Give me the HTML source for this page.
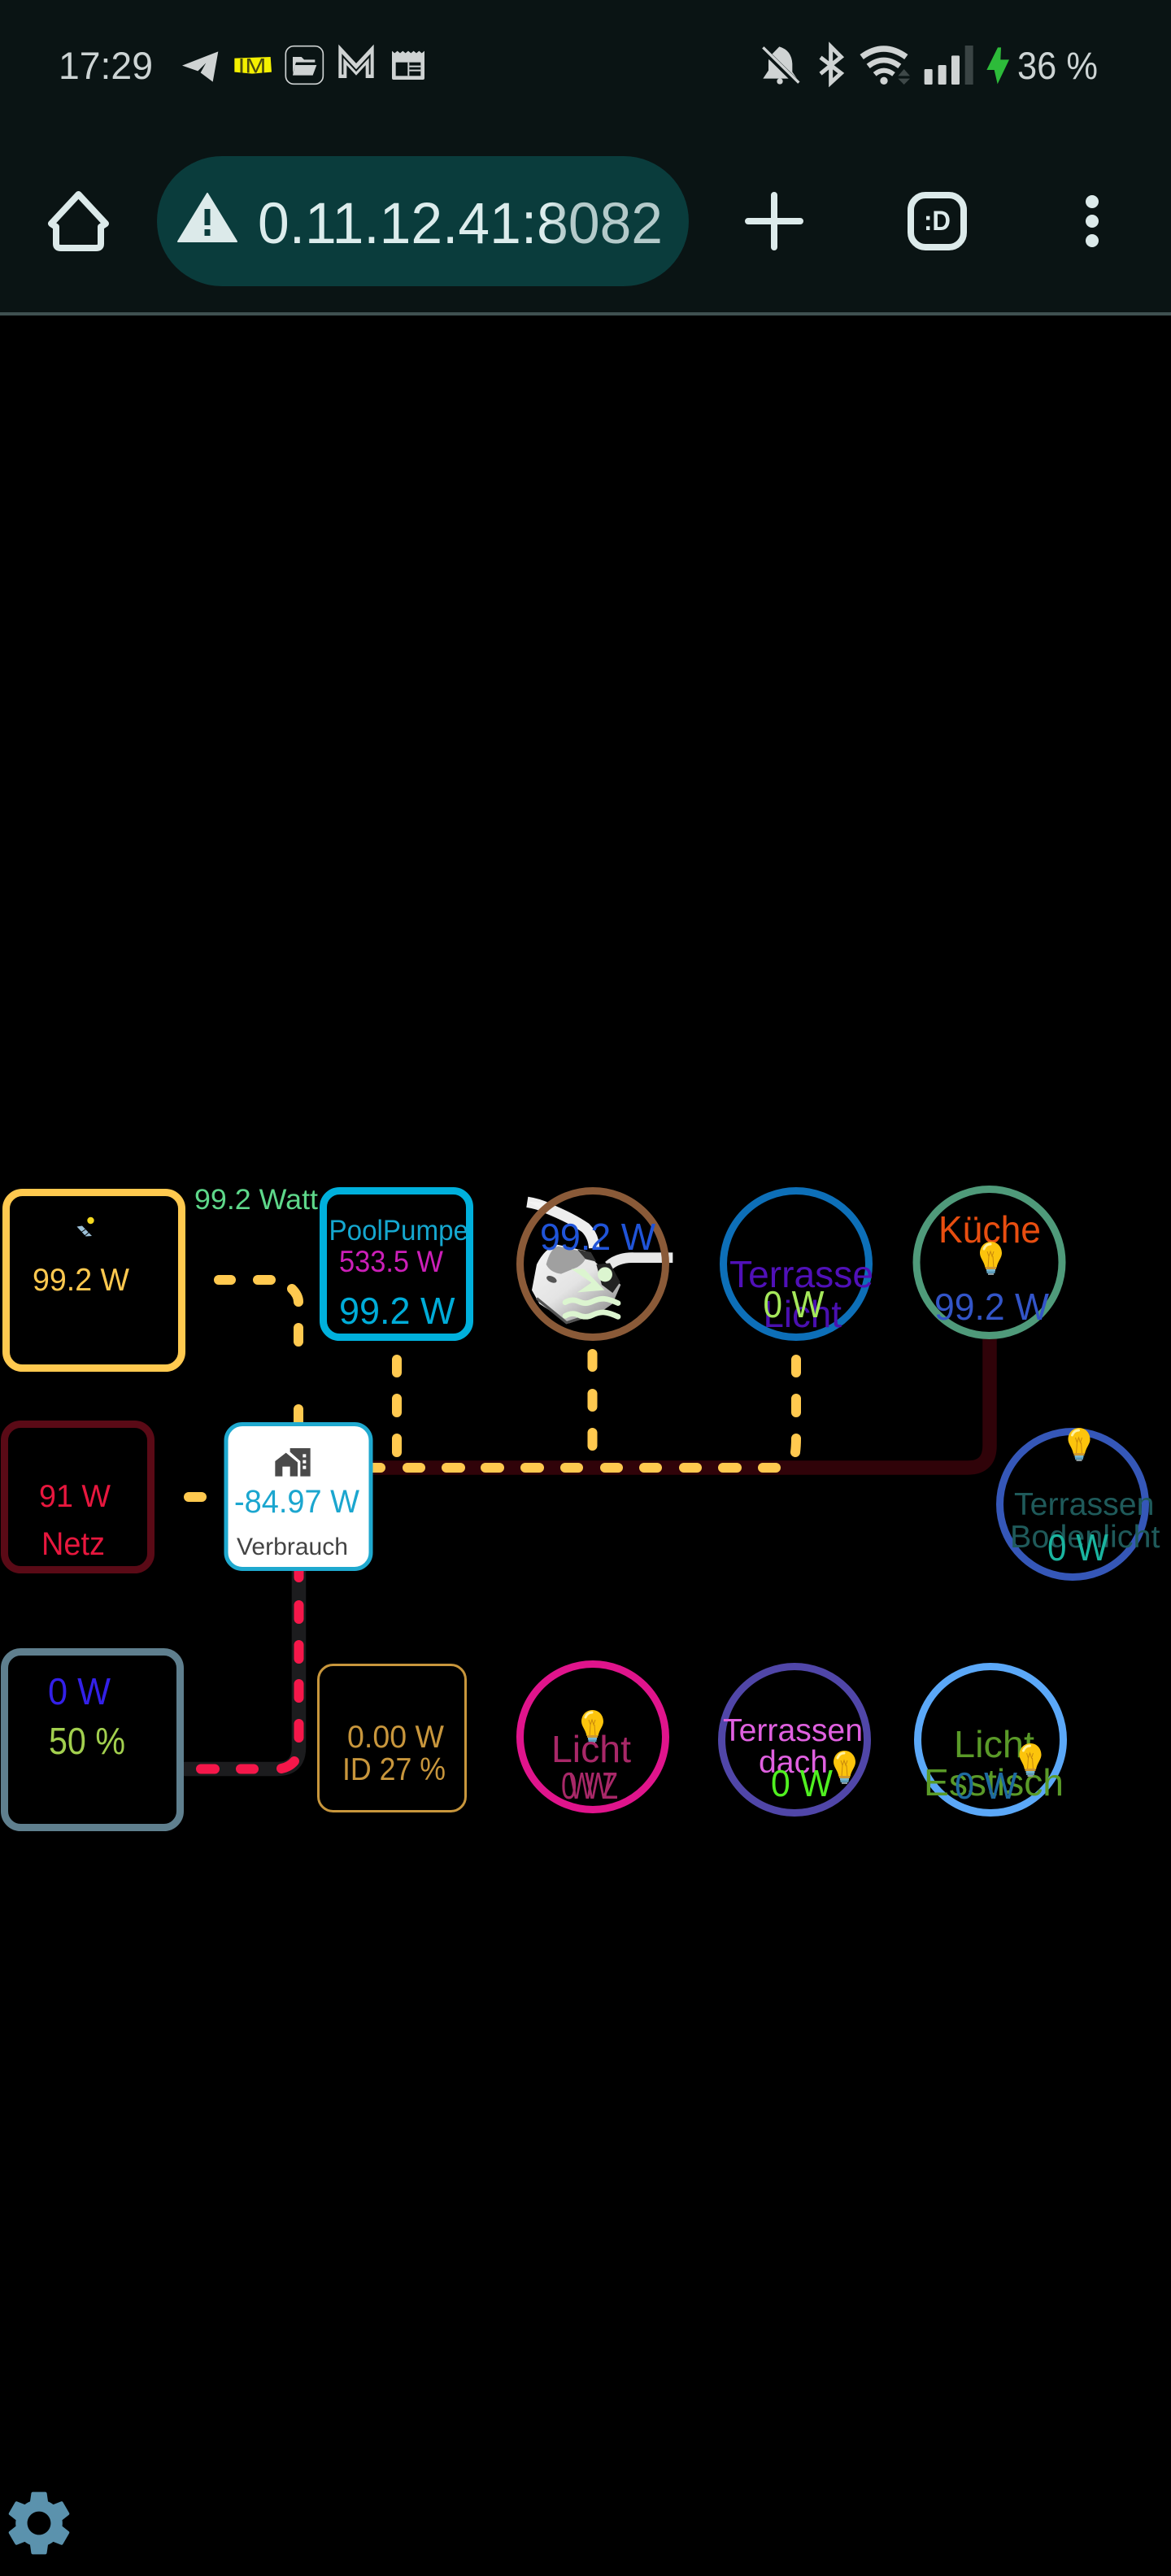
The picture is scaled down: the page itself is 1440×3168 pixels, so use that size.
<!DOCTYPE html>
<html lang="de">
<head>
<meta charset="utf-8">
<title>Energy flow</title>
<style>
html,body{margin:0;padding:0;background:#000}
svg{display:block}
text{font-family:"Liberation Sans",sans-serif}
</style>
</head>
<body>
<svg xmlns="http://www.w3.org/2000/svg" width="1440" height="3168" viewBox="0 0 1440 3168">
<defs>
<linearGradient id="urlg" x1="317" x2="815" y1="0" y2="0" gradientUnits="userSpaceOnUse">
<stop offset="0" stop-color="#dcecec"/><stop offset=".72" stop-color="#dcecec"/><stop offset=".76" stop-color="#b4caca"/><stop offset="1" stop-color="#b4caca"/>
</linearGradient>
<linearGradient id="bodyg" x1="120" x2="330" y1="280" y2="560" gradientUnits="userSpaceOnUse">
<stop offset="0" stop-color="#f4f4f4"/><stop offset=".55" stop-color="#e4e4e4"/><stop offset="1" stop-color="#9a9a9a"/>
</linearGradient>
<g id="bulb">
<path d="M13.5 0C5 0 0 7 0 14c0 6 5 10 6.500 18h14C22 24 27 20 27 14 27 7 22 0 13.500 0z" fill="#fcc40c"/>
<path d="M5 9C7 4 10 3 13 3" stroke="#fff2a0" stroke-width="3" fill="none" stroke-linecap="round"/>
<path d="M9 12l2 6 2-6 2 6 2-6M11 18l-1 14M16 18l1 14" stroke="#c8880c" stroke-width="1" fill="none"/>
<rect x="7" y="31" width="13" height="3" fill="#d09a30"/>
<rect x="8" y="34" width="11" height="2.500" fill="#7ab8d0"/>
<rect x="8.500" y="36.500" width="10" height="2.500" fill="#5a9ab8"/>
<rect x="10" y="39" width="7" height="2" fill="#8a9aa0"/>
</g>
</defs>

<!-- browser chrome -->
<rect x="0" y="0" width="1440" height="384" fill="#0a1414"/>
<rect x="0" y="384" width="1440" height="4" fill="#3f5050"/>
<text x="72" y="97" font-size="47" fill="#cdd4d4" textLength="116" lengthAdjust="spacingAndGlyphs">17:29</text>

<g transform="translate(210,50) scale(.33333)">
<path d="M175 40L42 92 100 112 130 82 110 118 155 152Z" fill="#cfd3d3"/>
<path d="M235 65L368 60 372 116 300 122 235 116Z" fill="#f4f000"/>
<text x="248" y="118" font-size="76" fill="#4a4a10" textLength="104" lengthAdjust="spacingAndGlyphs">IM</text>
<rect x="424" y="20" width="138" height="140" rx="30" fill="none" stroke="#cfd3d3" stroke-width="5"/>
<path d="M450 60h32l10 10h40v10H462l-12 40z" fill="#cfd3d3"/>
<path d="M458 90H538L524 128H450Z" fill="#cfd3d3"/>
<path d="M634 138V52L684 106 734 52V138" fill="none" stroke="#cfd3d3" stroke-width="30"/>
<path d="M634 125V56L684 110 734 56V125" fill="none" stroke="#0a1414" stroke-width="6"/>
<path d="M816 38l10 8 10-8 10 8 10-8 10 8 10-8 10 8 10-8 10 8 10-8 10 8 10-8v100q0 6-6 6H822q-6 0-6-6z" fill="#cfd3d3"/>
<rect x="830" y="80" width="92" height="50" fill="#0a1414"/>
<rect x="874" y="80" width="6" height="50" fill="#cfd3d3"/>
<path d="M880 95h42M880 110h42" stroke="#cfd3d3" stroke-width="6"/>
</g>

<g transform="translate(925,50) scale(.33333)">
<path d="M100 22Q145 35 148 85V115L165 140H40L60 110V75Q62 55 75 48Z" fill="#cfd3d3"/>
<circle cx="102" cy="150" r="11" fill="#cfd3d3"/>
<path d="M30 22L175 165" stroke="#0a1414" stroke-width="22"/>
<path d="M40 25L172 155" stroke="#cfd3d3" stroke-width="10"/>
<path d="M252 62L328 120 290 155V22L328 60 252 122" fill="none" stroke="#cfd3d3" stroke-width="15"/>
<path d="M404 60Q485 0 568 60" fill="none" stroke="#cfd3d3" stroke-width="22"/>
<path d="M428 94Q485 50 544 94" fill="none" stroke="#cfd3d3" stroke-width="20"/>
<path d="M452 124Q485 96 522 124" fill="none" stroke="#cfd3d3" stroke-width="18"/>
<circle cx="486" cy="148" r="14" fill="#cfd3d3"/>
<path d="M560 105L538 130H582Z M538 140H582L560 162Z" fill="#3e4848"/>
<rect x="635" y="105" width="30" height="57" rx="4" fill="#cfd3d3"/>
<rect x="686" y="90" width="30" height="72" rx="4" fill="#cfd3d3"/>
<rect x="735" y="55" width="30" height="107" rx="4" fill="#cfd3d3"/>
<rect x="785" y="18" width="30" height="144" fill="#3a4444"/>
<path d="M906 25L865 108H893L905 160 948 70H916L918 25Z" fill="#2dbb3a"/>
</g>
<text x="1251" y="97" font-size="47" fill="#cdd4d4" textLength="99" lengthAdjust="spacingAndGlyphs">36 %</text>

<path d="M96.500 239L130 275 124 279V300Q124 305 118 305H75Q69 305 69 300V279L63 275Z" fill="none" stroke="#dceaea" stroke-width="8" stroke-linejoin="round"/>
<rect x="193" y="192" width="654" height="160" rx="80" fill="#0a3c3c"/>
<path d="M255 238L291 297H219Z" fill="#dceaea" stroke="#dceaea" stroke-width="2" stroke-linejoin="round"/>
<rect x="251.500" y="257" width="7" height="20" fill="#0a3c3c"/>
<rect x="251.500" y="282" width="7" height="8" fill="#0a3c3c"/>
<text x="317" y="299" font-size="71" fill="url(#urlg)" textLength="498" lengthAdjust="spacingAndGlyphs">0.11.12.41:8082</text>
<path d="M952 240V304M920 272H984" stroke="#dceaea" stroke-width="8" stroke-linecap="round"/>
<rect x="1120" y="240" width="65" height="64" rx="18" fill="none" stroke="#dceaea" stroke-width="8"/>
<text x="1136" y="283" font-size="34" font-weight="bold" fill="#dceaea" textLength="33" lengthAdjust="spacingAndGlyphs">:D</text>
<circle cx="1343" cy="248" r="8" fill="#dceaea"/>
<circle cx="1343" cy="272" r="8" fill="#dceaea"/>
<circle cx="1343" cy="296" r="8" fill="#dceaea"/>

<!-- connector bases -->
<path d="M458 1805H1190Q1217 1805 1217 1778V1645" fill="none" stroke="#300309" stroke-width="17.500"/>
<path d="M367.500 1930V2149Q367.500 2175.500 341 2175.500H224" fill="none" stroke="#1c1c1e" stroke-width="17.500"/>

<!-- yellow dashes -->
<g fill="none" stroke="#ffc94f" stroke-width="12" stroke-linecap="round">
<path d="M269 1574H284M317 1574H333"/>
<path d="M359 1585Q367 1593 367 1601"/>
<path d="M367 1633V1650M367 1733V1755"/>
<path d="M488 1672V1688M488 1720V1737M488 1769V1786"/>
<path d="M728.500 1665V1681M728.500 1714V1730M728.500 1762V1778"/>
<path d="M979 1672V1688M979 1720V1737M979 1769Q979 1778 978 1786"/>
<path d="M232 1841H248"/>
<path d="M455 1805H468M501 1805H517M549 1805H566M597 1805H614M646 1805H663M695 1805H711M744 1805H760M792 1805H808M841 1805H857M889 1805H906M938 1805H954"/>
</g>

<!-- red dashes -->
<g fill="none" stroke="#f5174a" stroke-width="12" stroke-linecap="round">
<path d="M367.500 1930V1940M367.500 1974V1991M367.500 2023V2040M367.500 2071V2088M367.500 2120V2137"/>
<path d="M247 2175.500H264M296 2175.500H312"/>
<path d="M346 2175Q356 2173 362 2166"/>
</g>

<!-- solar -->
<rect x="7.500" y="1466.500" width="216" height="216" rx="20" fill="#000" stroke="#ffc94f" stroke-width="9"/>
<circle cx="111.500" cy="1501" r="4.200" fill="#f4d820"/>
<path d="M94.500 1508.500L101 1507.500 113 1520 105.500 1520.500Z" fill="#9cc0d8"/>
<path d="M99 1516L105 1512M104 1520L110 1515" stroke="#000" stroke-width="1"/>
<text x="40" y="1587" font-size="39" fill="#ffc94f" textLength="119" lengthAdjust="spacingAndGlyphs">99.2 W</text>
<text x="239" y="1487" font-size="35" fill="#5ed88a" textLength="152" lengthAdjust="spacingAndGlyphs">99.2 Watt</text>

<!-- pool pump box -->
<rect x="397.500" y="1464.500" width="180" height="180" rx="20" fill="#000" stroke="#00b0dc" stroke-width="9"/>
<text x="404.500" y="1525" font-size="35" fill="#15a7cf" textLength="171.500" lengthAdjust="spacingAndGlyphs">PoolPumpe</text>
<text x="417" y="1564" font-size="37" fill="#cc1fb8" textLength="128" lengthAdjust="spacingAndGlyphs">533.5 W</text>
<text x="417" y="1628" font-size="46" fill="#00acd8" textLength="142.500" lengthAdjust="spacingAndGlyphs">99.2 W</text>

<!-- netz -->
<rect x="5.500" y="1751.500" width="180" height="179" rx="20" fill="#000" stroke="#5a0a16" stroke-width="9"/>
<text x="48" y="1853" font-size="39" fill="#e8173e" textLength="88" lengthAdjust="spacingAndGlyphs">91 W</text>
<text x="51" y="1912" font-size="40" fill="#e8173e" textLength="78" lengthAdjust="spacingAndGlyphs">Netz</text>

<!-- verbrauch -->
<rect x="278" y="1751.500" width="178" height="178" rx="20" fill="#fff" stroke="#1fa9cf" stroke-width="5"/>
<g transform="translate(330,1775) scale(.33333)" fill="#4a4a4a">
<path d="M80 18H155V122H118V66L80 32Z"/>
<path d="M25 122V66L65 35 108 70V122H80V86H52V122Z"/>
<rect x="127" y="40" width="12" height="12" fill="#fff"/>
<rect x="127" y="62" width="12" height="12" fill="#fff"/>
<rect x="127" y="83" width="12" height="12" fill="#fff"/>
</g>
<text x="288" y="1860" font-size="40" fill="#1ba6cf" textLength="154" lengthAdjust="spacingAndGlyphs">-84.97 W</text>
<text x="291" y="1912" font-size="30" fill="#444" textLength="137" lengthAdjust="spacingAndGlyphs">Verbrauch</text>

<!-- battery -->
<rect x="5.500" y="2031.500" width="216" height="216" rx="20" fill="#000" stroke="#5f7f8e" stroke-width="9"/>
<text x="59" y="2096" font-size="46" fill="#3320e8" textLength="77" lengthAdjust="spacingAndGlyphs">0 W</text>
<text x="60" y="2157" font-size="46" fill="#a2cf4e" textLength="94" lengthAdjust="spacingAndGlyphs">50 %</text>

<!-- id box -->
<rect x="391.500" y="2047.500" width="181" height="180" rx="18" fill="#000" stroke="#c8963c" stroke-width="3"/>
<text x="427" y="2149" font-size="39" fill="#c8963c" textLength="119" lengthAdjust="spacingAndGlyphs">0.00 W</text>
<text x="421" y="2189" font-size="39" fill="#c8963c" textLength="127" lengthAdjust="spacingAndGlyphs">ID 27 %</text>

<!-- pump artwork -->
<g transform="translate(620,1440) scale(.33333)">
<path d="M85 115Q130 122 160 138Q250 175 300 210Q330 240 332 285" fill="none" stroke="#eeeeee" stroke-width="40"/>
<path d="M85 113L150 118 160 155Q120 130 85 113Z" fill="#f4f4f4"/>
<path d="M385 350Q420 318 480 320H622" fill="none" stroke="#e8e8e8" stroke-width="38"/>
<path d="M102 440L120 345Q150 285 195 272L300 295 340 340 430 420 400 490 350 525 240 562 130 490Z" fill="url(#bodyg)"/>
<path d="M155 345Q170 285 200 278L300 300Q310 330 270 355L210 380Q170 375 155 345Z" fill="#a0a0a0"/>
<path d="M120 470L230 560 340 525" fill="none" stroke="#555" stroke-width="10"/>
<ellipse cx="175" cy="400" rx="20" ry="11" fill="#555" transform="rotate(25 175 400)"/>
<path d="M340 345L390 340 428 410 400 450 360 420Z" fill="#222"/>
<path d="M270 290L320 300 340 335 300 325Z" fill="#333"/>
</g>

<!-- circles -->
<g fill="none" stroke-width="9">
<ellipse cx="729" cy="1554.500" rx="89.500" ry="90" stroke="#8a5a38"/>
<ellipse cx="979" cy="1554.500" rx="89.500" ry="90" stroke="#0d6fb8"/>
<ellipse cx="1216.500" cy="1552.500" rx="89.500" ry="90" stroke="#4f9a7a"/>
<ellipse cx="1319" cy="1850" rx="89.500" ry="89.500" stroke="#3557b8"/>
<ellipse cx="729" cy="2136" rx="89.500" ry="89.500" stroke="#e0148c"/>
<ellipse cx="977" cy="2139.500" rx="89.500" ry="90" stroke="#5046a8"/>
<ellipse cx="1218" cy="2139.500" rx="89.500" ry="90" stroke="#5ba8f8"/>
</g>

<!-- pump overlay -->
<text x="664" y="1537" font-size="46" fill="#2054d8" textLength="142" lengthAdjust="spacingAndGlyphs">99.2 W</text>
<g transform="translate(620,1440) scale(.33333)" fill="#dcf5d0">
<circle cx="372" cy="382" r="27"/>
<path d="M248 362H295L370 440 270 448 322 412Z"/>
<path d="M225 485Q250 470 275 482T325 482T370 472T420 488" fill="none" stroke="#dcf5d0" stroke-width="20" stroke-linecap="round"/>
<path d="M225 535Q250 520 275 532T325 532T370 522T420 538" fill="none" stroke="#dcf5d0" stroke-width="20" stroke-linecap="round"/>
</g>

<!-- terrasse licht -->
<text x="897" y="1583" font-size="46" fill="#5010b8" textLength="177" lengthAdjust="spacingAndGlyphs">Terrasse</text>
<text x="938.500" y="1632" font-size="46" fill="#4a10b0" textLength="96.500" lengthAdjust="spacingAndGlyphs">Licht</text>
<text x="938.500" y="1620" font-size="46" fill="#a5e85a" textLength="75" lengthAdjust="spacingAndGlyphs">0 W</text>

<!-- kueche -->
<text x="1154" y="1528" font-size="46" fill="#e84e10" textLength="126" lengthAdjust="spacingAndGlyphs">Küche</text>
<use href="#bulb" x="1205" y="1527"/>
<text x="1149" y="1623" font-size="46" fill="#3355c8" textLength="141" lengthAdjust="spacingAndGlyphs">99.2 W</text>

<!-- bodenlicht -->
<use href="#bulb" x="1313.500" y="1756"/>
<text x="1247" y="1863" font-size="39" fill="#1f5a5a" textLength="172.500" lengthAdjust="spacingAndGlyphs">Terrassen</text>
<text x="1242" y="1903" font-size="39" fill="#1f5a5a" textLength="184.500" lengthAdjust="spacingAndGlyphs">Bodenlicht</text>
<text x="1288" y="1919" font-size="46" fill="#1ab5a0" textLength="75" lengthAdjust="spacingAndGlyphs">0 W</text>

<!-- licht -->
<use href="#bulb" x="715" y="2103"/>
<text x="678" y="2167" font-size="46" fill="#a82868" textLength="98" lengthAdjust="spacingAndGlyphs">Licht</text>
<text x="690" y="2212" font-size="46" fill="#a82868" textLength="62" lengthAdjust="spacingAndGlyphs">0 W</text>
<text x="700" y="2212" font-size="46" fill="#a82868" textLength="60" lengthAdjust="spacingAndGlyphs">W Z</text>

<!-- terrassendach -->
<text x="889" y="2141" font-size="39" fill="#e060e0" textLength="172" lengthAdjust="spacingAndGlyphs">Terrassen</text>
<text x="933" y="2180" font-size="39" fill="#e060e0" textLength="85" lengthAdjust="spacingAndGlyphs">dach</text>
<text x="948" y="2209" font-size="46" fill="#50f020" textLength="76" lengthAdjust="spacingAndGlyphs">0 W</text>
<use href="#bulb" x="1025" y="2153"/>

<!-- esstisch -->
<text x="1173" y="2161" font-size="46" fill="#5a9a28" textLength="99" lengthAdjust="spacingAndGlyphs">Licht</text>
<text x="1136" y="2208" font-size="46" fill="#5a9a28" textLength="172" lengthAdjust="spacingAndGlyphs">Esstisch</text>
<text x="1174" y="2212" font-size="46" fill="#1e6aa0" textLength="77" lengthAdjust="spacingAndGlyphs">0 W</text>
<use href="#bulb" x="1253.500" y="2144"/>

<!-- gear -->
<path transform="translate(0,3055) scale(4)" fill="#5b92ad" d="M19.14 12.94c.04-.3.06-.61.06-.94 0-.32-.02-.64-.07-.94l2.03-1.58c.18-.14.23-.41.12-.61l-1.92-3.32c-.12-.22-.37-.29-.59-.22l-2.39.96c-.5-.38-1.03-.7-1.62-.94l-.36-2.54c-.04-.24-.24-.41-.48-.41h-3.84c-.24 0-.43.17-.47.41l-.36 2.54c-.59.24-1.13.57-1.62.94l-2.39-.96c-.22-.08-.47 0-.59.22L2.74 8.87c-.12.21-.08.47.12.61l2.03 1.58c-.05.3-.09.63-.09.94s.02.64.07.94l-2.03 1.58c-.18.14-.23.41-.12.61l1.92 3.32c.12.22.37.29.59.22l2.39-.96c.5.38 1.03.7 1.62.94l.36 2.54c.05.24.24.41.48.41h3.84c.24 0 .44-.17.47-.41l.36-2.54c.59-.24 1.13-.56 1.62-.94l2.39.96c.22.08.47 0 .59-.22l1.92-3.32c.12-.22.07-.47-.12-.61l-2.01-1.58zM12 15.6c-1.98 0-3.6-1.62-3.6-3.6s1.62-3.6 3.6-3.6 3.6 1.62 3.6 3.6-1.62 3.6-3.6 3.6z"/>
</svg>
</body>
</html>
